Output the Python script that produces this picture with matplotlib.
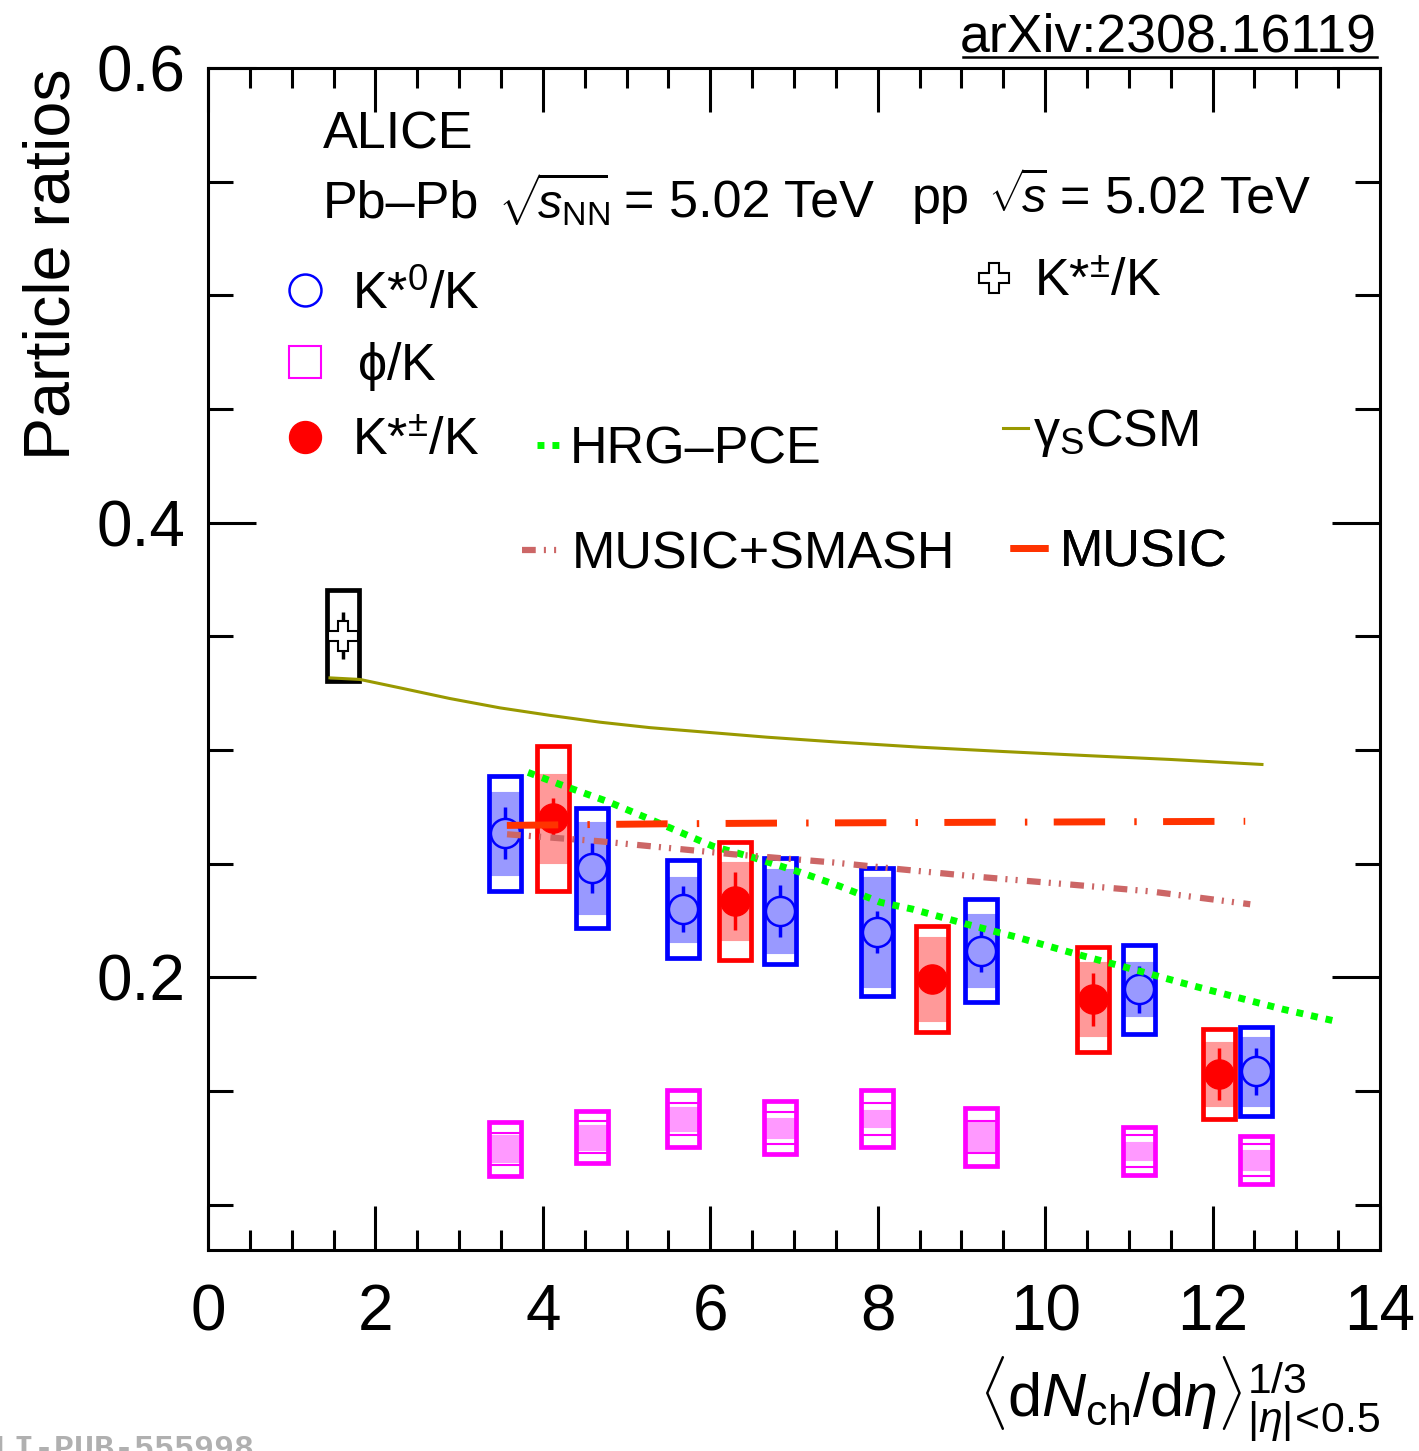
import numpy as np
import matplotlib
matplotlib.use("Agg")
import matplotlib.pyplot as plt
from matplotlib.lines import Line2D
from matplotlib.ticker import MultipleLocator

plt.rcParams['font.family'] = ['Liberation Sans', 'DejaVu Sans']
plt.rcParams['mathtext.fontset'] = 'custom'
plt.rcParams['mathtext.rm'] = 'Liberation Sans'
plt.rcParams['mathtext.it'] = 'Liberation Sans:italic'
plt.rcParams['mathtext.sf'] = 'Liberation Sans'

# Pb-Pb K*0/K
x_k0 = [3.55, 4.59, 5.67, 6.83, 7.99, 9.23, 11.12, 12.52]
k0 = [0.2633, 0.2482, 0.2299, 0.2291, 0.2199, 0.2116, 0.1947, 0.1587]
k0_stat = [0.0114, 0.0110, 0.0102, 0.0113, 0.0092, 0.0092, 0.0103, 0.0103]
k0_sys = [0.0253, 0.0264, 0.0215, 0.0234, 0.0283, 0.0227, 0.0196, 0.0196]
k0_sysu = [0.0183, 0.0203, 0.0143, 0.0183, 0.0242, 0.0161, 0.0119, 0.0152]

# Pb-Pb K*+-/K
x_kch = [4.12, 6.30, 8.65, 10.57, 12.08]
kch = [0.2699, 0.2335, 0.1991, 0.1903, 0.1574]
kch_stat = [0.0090, 0.0128, 0.0050, 0.0117, 0.0116]
kch_sys = [0.0319, 0.0259, 0.0234, 0.0230, 0.0198]
kch_sysu = [0.0196, 0.0170, 0.0185, 0.0163, 0.0141]

# Pb-Pb phi/K (same x as K*0), stat errors hidden by the marker
phi = [0.1246, 0.1297, 0.1378, 0.1338, 0.1378, 0.1297, 0.1236, 0.1196]
phi_sys = [0.0119, 0.0116, 0.0127, 0.0116, 0.0127, 0.0126, 0.0107, 0.0106]
phi_sysu = [0.0059, 0.0055, 0.0053, 0.0044, 0.0037, 0.0064, 0.0038, 0.0043]

# pp K*+-/K
x_pp = [1.61]
pp = [0.3503]
pp_stat = [0.0103]
pp_sys = [0.0200]

# models
csm_x = [1.457, 1.816, 2.294, 2.891, 3.488, 4.085, 4.683, 5.280, 6.116, 6.678, 7.5, 8.505, 9.5, 10.5, 11.5, 12.59]
csm_y = [0.3317, 0.3310, 0.3273, 0.3226, 0.3185, 0.3152, 0.3122, 0.3098, 0.3073, 0.3056, 0.3035, 0.3012, 0.2993, 0.2975, 0.2958, 0.2936]
hrg_x = [3.823, 4.205, 4.766, 5.280, 6.033, 6.511, 7.072, 7.550, 8.028, 8.422, 9.067, 9.664, 10.381, 11.05, 11.647, 12.245, 12.842, 13.523]
hrg_y = [0.2901, 0.2848, 0.2774, 0.2695, 0.2576, 0.2527, 0.2462, 0.2400, 0.2330, 0.2299, 0.2233, 0.2176, 0.2101, 0.2035, 0.1974, 0.1916, 0.1859, 0.1802]
smash_x = [3.572, 4.683, 6.272, 7.466, 8.27, 9.258, 10.26, 11.25, 12.45]
smash_y = [0.2629, 0.2598, 0.2541, 0.2505, 0.2475, 0.2440, 0.2409, 0.2378, 0.2321]
music_x = [3.57, 5.48, 6.8, 9.5, 12.39]
music_y = [0.2668, 0.2675, 0.2678, 0.2682, 0.2686]

BW = 0.38

fig = plt.figure(figsize=(14.19, 14.51), dpi=100)
ax = fig.add_axes([208/1419, 1 - 1250/1451, 1172/1419, 1182/1451])


def boxes(x, y, stat, sys, sysu, col, shade):
    x = np.array(x); y = np.array(y); sys = np.array(sys)
    if sysu is not None:
        sysu = np.array(sysu)
        ax.bar(x, 2*sysu, bottom=y - sysu, width=BW, color=shade,
               edgecolor=shade, linewidth=0.8, zorder=2)
    ax.bar(x, 2*sys, bottom=y - sys, width=BW, fill=False,
           edgecolor=col, linewidth=3.4, zorder=3)
    if stat is not None:
        ax.errorbar(x, y, yerr=stat, fmt='none', ecolor=col, elinewidth=2.5,
                    capsize=0, zorder=4)


boxes(x_k0, k0, k0_stat, k0_sys, k0_sysu, 'blue', '#9999ff')
boxes(x_kch, kch, kch_stat, kch_sys, kch_sysu, 'red', '#ff9999')
boxes(x_k0, phi, None, phi_sys, phi_sysu, 'magenta', '#ff99ff')
boxes(x_pp, pp, pp_stat, pp_sys, None, 'black', None)

ax.plot(x_k0, k0, ls='none', marker='o', ms=21, mfc='#9999ff', mec='blue', mew=1.8, zorder=5)
ax.plot(x_kch, kch, ls='none', marker='o', ms=21, mfc='red', mec='red', mew=1, zorder=5)
ax.plot(x_k0, phi, ls='none', marker='s', ms=23, mfc='none', mec='magenta', mew=1.5, zorder=5)
ax.plot(x_pp, pp, ls='none', marker='P', ms=21, mfc='white', mec='black', mew=1.5, zorder=5)

l_csm, = ax.plot(csm_x, csm_y, color='#999900', lw=2.2, zorder=6)
l_hrg, = ax.plot(hrg_x, hrg_y, color='#00ff00', lw=5, dashes=(1, 1.15),
                 dash_capstyle='butt', zorder=6)
l_smash, = ax.plot(smash_x, smash_y, color='#cc6666', lw=4.5,
                   dashes=(2.2, 1.3, 0.33, 1.3, 0.33, 1.5), dash_capstyle='butt', zorder=6)
l_music, = ax.plot(music_x, music_y, color='#ff3300', lw=5,
                   dashes=(7.4, 4.2, 0.35, 3.8), dash_capstyle='butt', zorder=6)

ax.set_xlim(0, 14)
ax.set_ylim(0.08, 0.6)
ax.set_xticks(np.arange(0, 15, 2))
ax.xaxis.set_minor_locator(MultipleLocator(0.5))
ax.set_yticks([0.2, 0.4, 0.6])
ax.yaxis.set_minor_locator(MultipleLocator(0.05))
ax.tick_params(which='both', direction='in', top=True, right=True, width=2.2)
ax.tick_params(axis='x', which='major', length=32, pad=24, labelsize=46)
ax.tick_params(axis='x', which='minor', length=14.5)
ax.tick_params(axis='y', which='major', length=34.5, pad=16, labelsize=46)
ax.tick_params(axis='y', which='minor', length=18)
for s in ax.spines.values():
    s.set_linewidth(2.2)

ax.set_ylabel('Particle ratios', fontsize=46.5, loc='top', labelpad=10)
ax.set_xlabel(r'$\langle\mathrm{d}N_{\mathrm{ch}}/\mathrm{d}\eta\rangle^{1/3}_{|\eta|\!<\!0.5}$',
              fontsize=44, loc='right', labelpad=8)

FS = 37.5
tr = ax.transAxes
ax.text(0.0981, 0.9323, 'ALICE', transform=tr, fontsize=FS, va='baseline')
ax.text(0.0981, 0.8731, 'Pb–Pb', transform=tr, fontsize=FS, va='baseline')
ax.text((498-208)/1172, 0.8731, r'$\sqrt{\!s_{\mathrm{NN}}\!\!}$', transform=tr, fontsize=35, va='baseline')
ax.text((624-208)/1172, 0.8731, '= 5.02 TeV', transform=tr, fontsize=FS, va='baseline')
ax.text((912-208)/1172, 0.8773, 'pp', transform=tr, fontsize=FS, va='baseline')
ax.text((988-208)/1172, 0.8773, r'$\sqrt{\!s\!}$', transform=tr, fontsize=35, va='baseline')
ax.text((1060-208)/1172, 0.8773, '= 5.02 TeV', transform=tr, fontsize=FS, va='baseline')


def key(handle, label, x, y, hl, pad):
    leg = ax.legend([handle], [label], loc='center left', bbox_to_anchor=(x, y),
                    bbox_transform=ax.transAxes, frameon=False, borderpad=0,
                    borderaxespad=0, handlelength=hl, handletextpad=pad,
                    fontsize=FS, numpoints=1)
    ax.add_artist(leg)


h_k0 = Line2D([], [], ls='none', marker='o', ms=23, mfc='none', mec='blue', mew=1.8)
h_phi = Line2D([], [], ls='none', marker='s', ms=23, mfc='none', mec='magenta', mew=1.5)
h_kch = Line2D([], [], ls='none', marker='o', ms=23, mfc='red', mec='red')
h_pp = Line2D([], [], ls='none', marker='P', ms=22, mfc='white', mec='black', mew=1.5)

key(h_k0, r'K*$^{0}$/K', 0.0695, 0.8080, 0.6, 0.60)
key(h_phi, r'$\mathrm{\phi}$/K', 0.0695, 0.7471, 0.6, 0.70)
key(h_kch, r'K*$^{\pm}$/K', 0.0695, 0.6836, 0.6, 0.60)
key(h_pp, r'K*$^{\pm}$/K', 0.6577, 0.8180, 0.6, 0.45)
key(l_hrg, 'HRG–PCE', 0.2807, 0.6770, 0.48, 0.15)
key(l_csm, r'$\mathrm{\gamma}_{\mathrm{S}}$CSM', 0.6783, 0.6912, 0.48, 0.1)
key(l_smash, 'MUSIC+SMASH', 0.2679, 0.588, 0.67, 0.29)
key(l_music, 'MUSIC', 0.6843, 0.5897, 0.73, 0.23)

fig.text(1377/1419, 1 - 52/1451, 'arXiv:2308.16119', fontsize=38.6, ha='right', va='baseline')
fig.add_artist(Line2D([963/1419, 1377/1419], [1 - 57/1451, 1 - 57/1451],
                      transform=fig.transFigure, color='black', lw=1.8))
fig.text(-26/1419, -7/1451, 'ALI-PUB-555998', fontsize=24, family='Liberation Mono',
         weight='bold', color='#b0b0b0', va='baseline')

fig.savefig('out.png', dpi=100)
